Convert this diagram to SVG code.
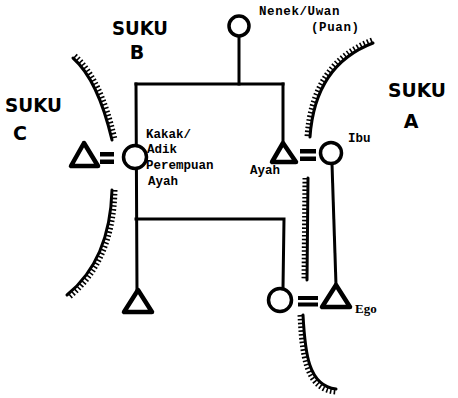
<svg xmlns="http://www.w3.org/2000/svg" width="458" height="398" viewBox="0 0 458 398">
<style>
.ln{stroke:#000;stroke-width:3;fill:none;stroke-linecap:square}
.sym{stroke:#000;stroke-width:3.5;fill:#fff;stroke-linejoin:round}
.tri{stroke-width:4.5}
.eq{fill:#000}
.hatch{stroke:#000;stroke-width:3;fill:none;stroke-linecap:round}
.tick{stroke:#000;stroke-width:5;fill:none;stroke-dasharray:1.6 2.2}
.lbl{font-family:"Liberation Mono",monospace;font-weight:bold;font-size:12.5px;fill:#000}
.ego{font-family:"Liberation Serif",serif;font-weight:bold;font-size:13px;fill:#000}
.suku{font-family:"DejaVu Sans",sans-serif;font-weight:bold;font-size:19px;fill:#000}
</style>
<rect width="458" height="398" fill="#fff"/>
<g id="boundaries">
  <path class="hatch" d="M73,58 Q98,80 112,140"/>
  <path class="tick" d="M75,55.7 Q101,78.5 115,139.3"/>
  <path class="hatch" d="M112,190 Q110,260 67,295"/>
  <path class="tick" d="M115,190 Q113.5,261 69,297.5"/>
  <path class="hatch" d="M373,43 Q315,65 310,137"/>
  <path class="tick" d="M372,40 Q312,63 307,137"/>
  <path class="hatch" d="M308,178 L307,280"/>
  <path class="tick" d="M305,178 L304,280"/>
  <path class="hatch" d="M303,315 C305,352 308,386 336,389"/>
  <path class="tick" d="M300,315 C302,354 305,390 336,392"/>
</g>
<g id="connectors">
  <path class="ln" d="M239,36 L239,84"/>
  <path class="ln" d="M136,84 L283,84"/>
  <path class="ln" d="M283,84 L283,143"/>
  <path class="ln" d="M136,84 L137,290"/>
  <path class="ln" d="M136,219 L284,219 L283,288"/>
  <path class="ln" d="M332,164 L336,285"/>
  <rect class="eq" x="100" y="152" width="14" height="4.5"/>
  <rect class="eq" x="100" y="159.5" width="14" height="4.5"/>
  <rect class="eq" x="300" y="149" width="16" height="4.5"/>
  <rect class="eq" x="300" y="156.5" width="16" height="4.5"/>
  <rect class="eq" x="298" y="296" width="20" height="4"/>
  <rect class="eq" x="298" y="302.5" width="20" height="4"/>
</g>
<g id="nenek">
  <circle class="sym" cx="239" cy="26" r="10"/>
  <text class="lbl" x="259" y="15" letter-spacing="0.6">Nenek/Uwan</text>
  <text class="lbl" x="311" y="31" letter-spacing="0.6">(Puan)</text>
</g>
<g id="suami-kakak">
  <path class="sym tri" d="M84,143 L71,166 L98,166 Z"/>
</g>
<g id="kakak">
  <circle class="sym" cx="135" cy="157" r="11.5"/>
  <text class="lbl" x="146" y="138">Kakak/</text>
  <text class="lbl" x="147" y="153">Adik</text>
  <text class="lbl" x="146" y="169">Perempuan</text>
  <text class="lbl" x="148" y="185">Ayah</text>
</g>
<g id="ayah">
  <path class="sym tri" d="M283,143 L272,162 L296,162 Z"/>
  <text class="lbl" x="250" y="174" font-size="10.5">Ayah</text>
</g>
<g id="ibu">
  <circle class="sym" cx="331" cy="153" r="10.5"/>
  <text class="lbl" x="348" y="142" font-size="11.5">Ibu</text>
</g>
<g id="anak-kakak">
  <path class="sym tri" d="M138,290 L124,312 L152,312 Z"/>
</g>
<g id="istri-ego">
  <circle class="sym" cx="280" cy="300" r="11.5"/>
</g>
<g id="ego">
  <path class="sym tri" d="M336,285 L322,307 L350,307 Z"/>
  <text class="ego" x="355" y="313">Ego</text>
</g>
<g id="suku-labels">
  <text class="suku" x="112" y="35" textLength="56" lengthAdjust="spacingAndGlyphs">SUKU</text>
  <text class="suku" x="137" y="59" text-anchor="middle" font-size="20">B</text>
  <text class="suku" x="5" y="112" textLength="57" lengthAdjust="spacingAndGlyphs">SUKU</text>
  <text class="suku" x="20" y="140" text-anchor="middle" font-size="17">C</text>
  <text class="suku" x="388" y="97" textLength="58" lengthAdjust="spacingAndGlyphs">SUKU</text>
  <text class="suku" x="411" y="128" text-anchor="middle" font-size="20">A</text>
</g>
</svg>
